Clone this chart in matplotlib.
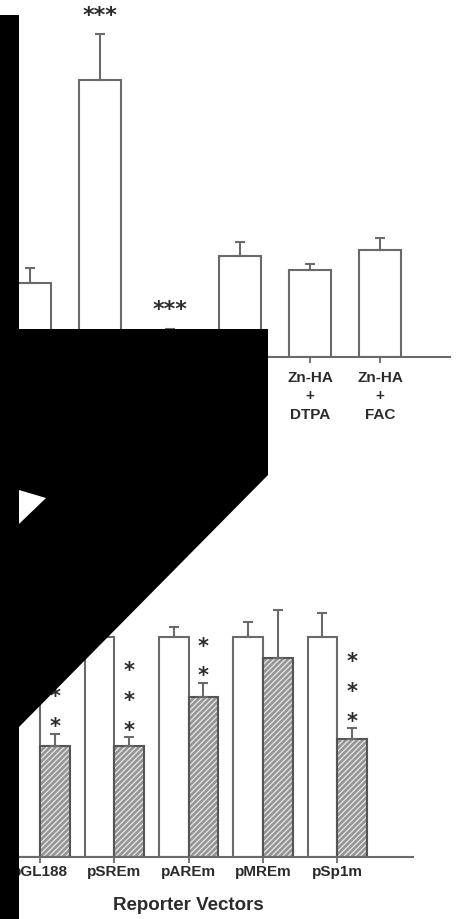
import matplotlib
matplotlib.use("Agg")
import matplotlib.pyplot as plt
from matplotlib.patches import Polygon
import numpy as np

plt.rcParams["font.family"] = ["Liberation Sans", "DejaVu Sans"]
plt.rcParams["hatch.linewidth"] = 0.9

# ---- upper panel: treatments (percent of control) ----
treat_labels = ["", "", "", "", "Zn-HA\n+\nDTPA", "Zn-HA\n+\nFAC"]
treat_mean = [100.0, 374.0, 26.0, 136.5, 117.6, 144.6]
treat_sem = [20.0, 62.0, 12.0, 19.0, 8.0, 16.0]
treat_sig = ["", "***", "***", "", "", ""]

# ---- lower panel: reporter vectors (percent of untreated) ----
vectors = ["pGL188", "pSREm", "pAREm", "pMREm", "pSp1m"]
ctrl_mean = [100.0, 100.0, 100.0, 100.0, 100.0]
ctrl_sem = [6.0, 6.0, 4.5, 7.0, 11.0]
zn_mean = [50.5, 50.5, 72.7, 90.5, 53.6]
zn_sem = [5.5, 4.0, 6.4, 22.0, 5.0]
zn_stars = [3, 3, 2, 0, 3]

EDGE = "#6a6a6a"
TXT = "#2b2b2b"
W, H = 458, 919

fig = plt.figure(figsize=(W / 100, H / 100), dpi=100)


def fbox(l, t, r, b):
    return [l / W, 1 - b / H, (r - l) / W, (b - t) / H]


def style_axes(ax):
    for s in ("top", "right"):
        ax.spines[s].set_visible(False)
    for s in ("left", "bottom"):
        ax.spines[s].set_color(EDGE)
        ax.spines[s].set_linewidth(1.5)
    ax.set_yticks([])


# upper panel
ax1 = fig.add_axes(fbox(2, 20, 450, 357))
x = np.arange(len(treat_mean))
ax1.bar(x, treat_mean, width=0.6, color="white", edgecolor=EDGE,
        linewidth=1.5, zorder=2)
ax1.errorbar(x, treat_mean, yerr=[np.zeros(len(x)), treat_sem], fmt="none",
             ecolor=EDGE, elinewidth=1.5, capsize=3.6, capthick=1.5, zorder=3)
for xi, m, e, s in zip(x, treat_mean, treat_sem, treat_sig):
    if s:
        ax1.text(xi, m + e + 25, s, ha="center", va="center", fontsize=16,
                 fontweight="bold", color=TXT, family="DejaVu Sans",
                 clip_on=False)
ax1.set_xlim(-0.4, 6.0)
ax1.set_ylim(0, 455)
style_axes(ax1)
ax1.set_xticks(x, treat_labels)
ax1.tick_params(axis="x", length=4, width=1.3, color=EDGE, pad=6,
                labelsize=11, labelcolor=TXT)
for lab in ax1.get_xticklabels():
    lab.set_fontweight("bold")
    lab.set_linespacing(1.4)

# lower panel
ax2 = fig.add_axes(fbox(2, 470, 413, 857))
g = np.arange(len(vectors))
bw = 0.4
ax2.bar(g - bw / 2, ctrl_mean, width=bw, color="white", edgecolor=EDGE,
        linewidth=1.5, zorder=2)
ax2.bar(g + bw / 2, zn_mean, width=bw, color="#959595", edgecolor="#e8e8e8",
        hatch="//////", linewidth=0, zorder=2)
ax2.bar(g + bw / 2, zn_mean, width=bw, fill=False, edgecolor="#555555",
        linewidth=1.5, zorder=2.5)
ax2.errorbar(g - bw / 2, ctrl_mean, yerr=[np.zeros(len(g)), ctrl_sem],
             fmt="none", ecolor=EDGE, elinewidth=1.5, capsize=3.6,
             capthick=1.5, zorder=3)
ax2.errorbar(g + bw / 2, zn_mean, yerr=[np.zeros(len(g)), zn_sem],
             fmt="none", ecolor=EDGE, elinewidth=1.5, capsize=3.6,
             capthick=1.5, zorder=3)
for i, n in enumerate(zn_stars):
    for k in range(n):
        ax2.text(i + bw / 2, zn_mean[i] + zn_sem[i] + 3.0 + 13.6 * k, "*",
                 ha="center", va="center", fontsize=15, fontweight="bold",
                 color=TXT, family="DejaVu Sans")
ax2.set_xlim(-0.512, 5.02)
ax2.set_ylim(0, 176)
style_axes(ax2)
ax2.set_xticks(g, vectors)
ax2.tick_params(axis="x", length=4, width=1.3, color=EDGE, pad=2,
                labelsize=11, labelcolor=TXT)
for lab in ax2.get_xticklabels():
    lab.set_fontweight("bold")
ax2.set_xlabel("Reporter Vectors", fontsize=13.5, fontweight="bold", color=TXT)
ax2.xaxis.set_label_coords(0.453, -0.126)
ax2.xaxis.label.set_va("center")


# black masking panels over the figure
def mask(pts, color):
    fig.add_artist(Polygon([(px / W, 1 - py / H) for px, py in pts],
                           closed=True, transform=fig.transFigure,
                           facecolor=color, edgecolor="none", zorder=20))


mask([(0, 15), (19, 15), (19, H), (0, H)], "black")
mask([(0, 329), (268, 329), (268, 475), (19, 727), (0, 727)], "black")
mask([(19, 490), (46, 498), (19, 524)], "white")

fig.savefig("out.png", dpi=100)
